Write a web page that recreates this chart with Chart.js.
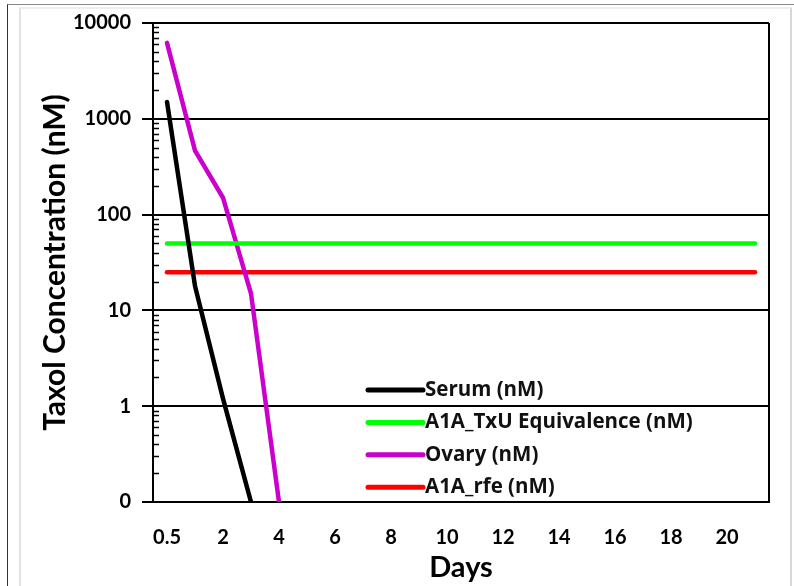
<!DOCTYPE html>
<html>
<head>
<meta charset="utf-8">
<script src="https://cdn.jsdelivr.net/npm/chart.js@4.4.1/dist/chart.umd.min.js"></script>
<style>
  body { margin: 0; background: #fff; }
  #outer { position: absolute; left: 7px; top: 4px; width: 800px; height: 600px; border-left: 1px solid #333; border-top: 1px solid #888; }
  #inner { position: absolute; left: 19px; top: 7px; width: 769px; height: 600px; border-left: 2px solid #e2e2e2; border-top: 2px solid #eee; border-right: 2px solid #d8d8d8; }
  #wrap { position: absolute; left: 0; top: 0; width: 794px; height: 586px; }
</style>
</head>
<body>
<div id="outer"></div>
<div id="inner"></div>
<div id="wrap"><canvas id="taxolChart" width="794" height="586"></canvas></div>
<script>
// categories (days)
const days = ['0.5', '1', '2', '3', '4', '5', '6', '7', '8', '9', '10', '11', '12', '13', '14', '15', '16', '17', '18', '19', '20', '21'];

// series values (nM)
const serum = [1500, 18, 1.2, 0.1];
const txuEquivalence = [50, 50, 50, 50, 50, 50, 50, 50, 50, 50, 50, 50, 50, 50, 50, 50, 50, 50, 50, 50, 50, 50];
const ovary = [6200, 465, 150, 15, 0.1];
const rfe = [25, 25, 25, 25, 25, 25, 25, 25, 25, 25, 25, 25, 25, 25, 25, 25, 25, 25, 25, 25, 25, 25];

// y tick values and labels
const yTicks = [0.1, 1, 10, 100, 1000, 10000];
const yTickLabels = ['0', '1', '10', '100', '1000', '10000'];

const FONT = 'Lato, "Open Sans", sans-serif';

// plot border, minor log ticks and the legend inside the plot
const extrasPlugin = {
    id: 'extras',
    afterDraw(chart) {
        const ctx = chart.ctx;
        const area = chart.chartArea;
        const y = chart.scales.y;
        ctx.save();
        ctx.strokeStyle = '#000';
        ctx.lineWidth = 2;
        ctx.beginPath();
        ctx.moveTo(area.right, area.top);
        ctx.lineTo(area.right, area.bottom);
        ctx.stroke();

        // minor ticks
        ctx.lineWidth = 1.5;
        for (let i = 0; i < yTicks.length - 1; i++) {
            for (let k = 2; k < 10; k++) {
                const py = Math.round(y.getPixelForValue(yTicks[i] * k)) + 0.5;
                ctx.beginPath();
                ctx.moveTo(area.left, py);
                ctx.lineTo(area.left + 6, py);
                ctx.stroke();
            }
        }

        // legend
        const x0 = area.left + 215;
        const x1 = area.left + 270;
        ctx.font = 'bold 20.5px "Open Sans", sans-serif';
        ctx.textBaseline = 'middle';
        ctx.fillStyle = '#111';
        chart.data.datasets.forEach((ds, i) => {
            const ly = area.bottom - 112 + i * 32.4;
            ctx.strokeStyle = ds.borderColor;
            ctx.lineWidth = 5;
            ctx.lineCap = 'round';
            ctx.beginPath();
            ctx.moveTo(x0, ly);
            ctx.lineTo(x1, ly);
            ctx.stroke();
            ctx.fillText(ds.label, x1 + 2, ly);
        });
        ctx.restore();
    }
};

const ctx = document.getElementById('taxolChart').getContext('2d');
new Chart(ctx, {
    type: 'line',
    data: {
        labels: days,
        datasets: [
            { label: 'Serum (nM)', data: serum, borderColor: '#000000' },
            { label: 'A1A_TxU Equivalence (nM)', data: txuEquivalence, borderColor: '#00ff00' },
            { label: 'Ovary (nM)', data: ovary, borderColor: '#cc00cc' },
            { label: 'A1A_rfe (nM)', data: rfe, borderColor: '#ff0000' }
        ]
    },
    options: {
        responsive: false,
        animation: false,
        layout: { padding: { top: 18, right: 25, left: 0, bottom: 0 } },
        elements: {
            line: { borderWidth: 4.5, tension: 0, borderCapStyle: 'round', borderJoinStyle: 'round' },
            point: { radius: 0 }
        },
        plugins: {
            legend: { display: false },
            tooltip: { enabled: false }
        },
        scales: {
            x: {
                type: 'category',
                offset: true,
                grid: { display: false },
                border: { display: true, color: '#000', width: 2 },
                ticks: {
                    autoSkip: false,
                    maxRotation: 0,
                    padding: 16,
                    color: '#000',
                    font: { family: FONT, size: 20, weight: 'bold' },
                    callback: (v, i) => (i % 2 === 0 ? days[i] : '')
                },
                title: {
                    display: true,
                    text: 'Days',
                    color: '#000',
                    font: { family: FONT, size: 29, weight: 'bold' },
                    padding: { top: 0, bottom: 1 }
                },
                afterFit(scale) { scale.height = 84; }
            },
            y: {
                type: 'logarithmic',
                min: 0.1,
                max: 10000,
                afterBuildTicks(scale) { scale.ticks = yTicks.map(v => ({ value: v })); },
                grid: { color: '#000', lineWidth: 2, tickLength: 11, drawTicks: true },
                border: { display: true, color: '#000', width: 2 },
                ticks: {
                    padding: 11,
                    color: '#000',
                    font: { family: FONT, size: 20, weight: 'bold' },
                    callback: (value) => yTickLabels[yTicks.indexOf(value)]
                },
                title: {
                    display: true,
                    text: 'Taxol Concentration (nM)',
                    color: '#000',
                    font: { family: FONT, size: 30, weight: 'bold' },
                    padding: { top: 37, bottom: 0 }
                },
                afterFit(scale) { scale.width = 153; }
            }
        }
    },
    plugins: [extrasPlugin]
});
</script>
</body>
</html>
